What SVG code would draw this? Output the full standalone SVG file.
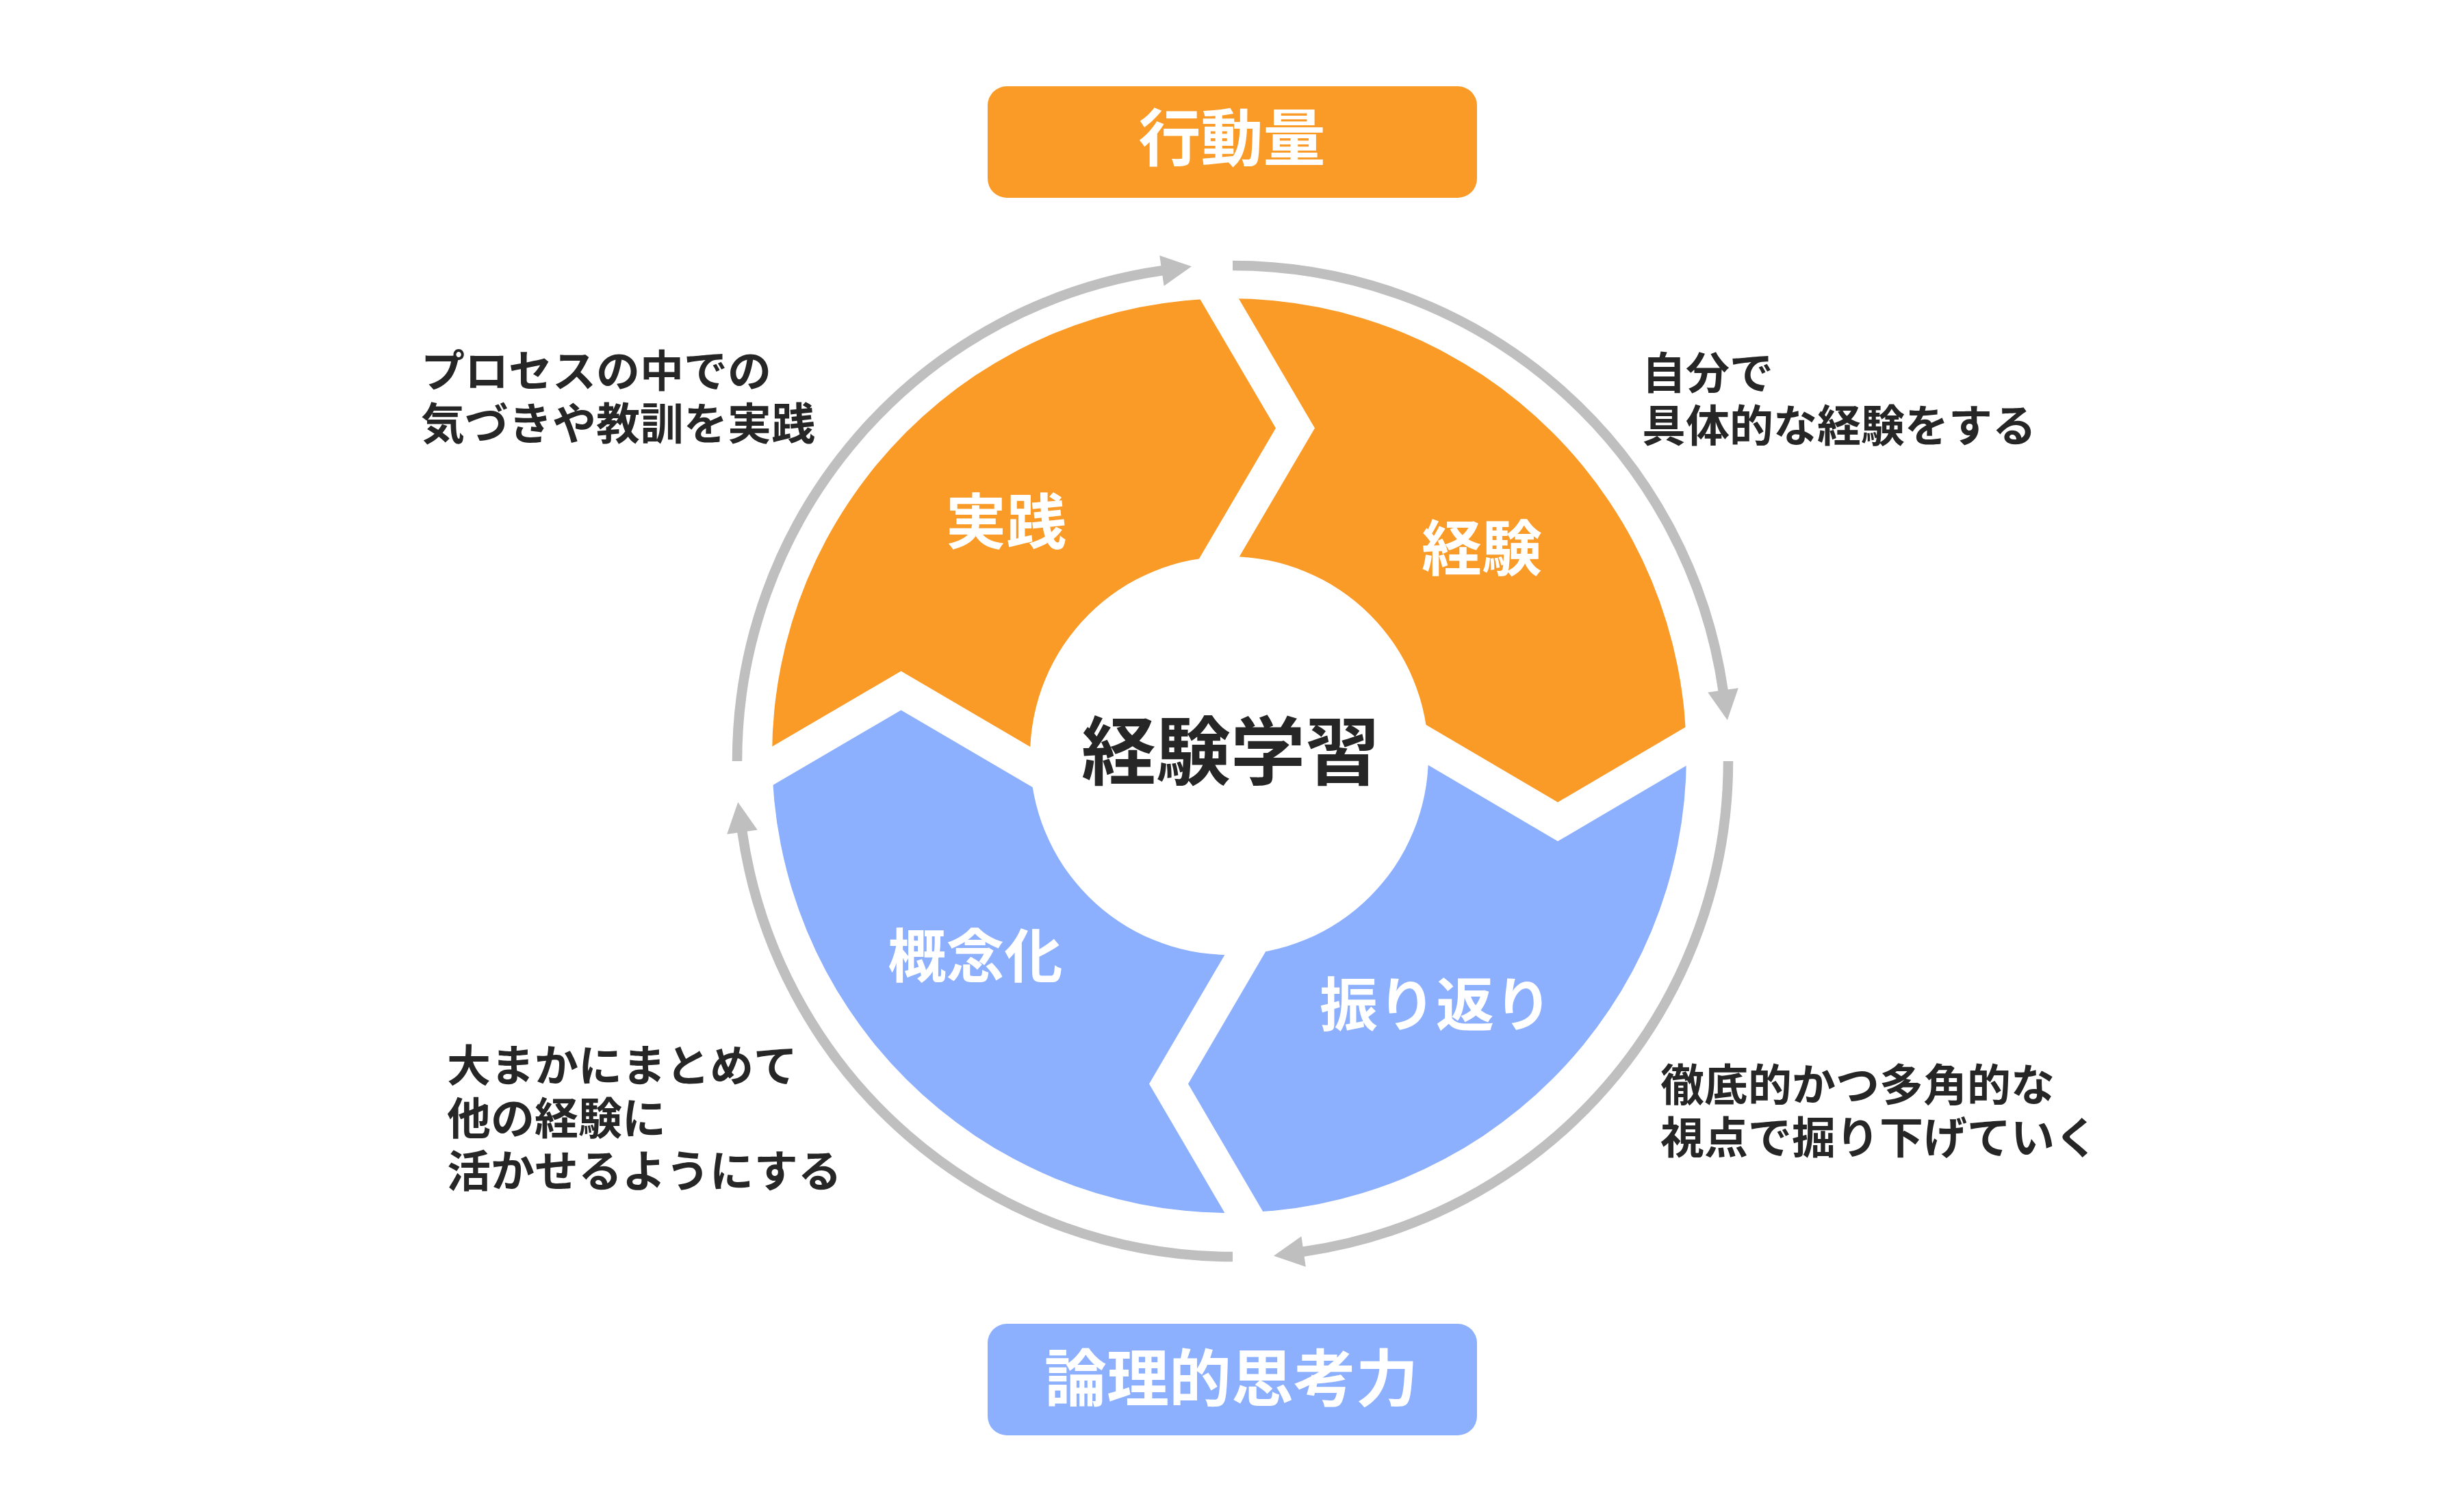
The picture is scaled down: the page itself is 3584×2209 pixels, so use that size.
<svg xmlns="http://www.w3.org/2000/svg" width="3584" height="2209" viewBox="0 0 3584 2209">
<style>
.o{fill:#FA9B28}
.b{fill:#8CB0FE}
.jp{font-family:"Noto Sans CJK JP","Noto Sans CJK SC",sans-serif;font-weight:700}
.lbl{fill:#FFFFFF;text-anchor:middle;font-size:88px}
.lbl2{fill:#FFFFFF;text-anchor:middle;font-size:85px}
.box{fill:#FFFFFF;text-anchor:middle;font-size:91px}
.note{fill:#262626;font-size:64px}
.ring{fill:none;stroke:#BFBFBF;stroke-width:14.5;marker-end:url(#ah)}
</style>
<defs>
<clipPath id="annulus">
<path clip-rule="evenodd" d="M1128,1104 A668,668 0 1 1 2464,1104 A668,668 0 1 1 1128,1104 Z M1505,1104 A291,291 0 1 1 2087,1104 A291,291 0 1 1 1505,1104 Z"/>
</clipPath>
<marker id="ah" markerUnits="userSpaceOnUse" markerWidth="50" markerHeight="50" refX="1" refY="22.5" orient="auto" overflow="visible">
<path d="M0,0 L44,22.5 L0,45 Z" fill="#BFBFBF"/>
</marker>
</defs>
<rect x="0" y="0" width="3584" height="2209" fill="#FFFFFF"/>

<g id="box-top">
<rect x="1443" y="126" width="715" height="163" rx="28" ry="28" class="o"/>
<text x="1800" y="235" class="jp box">行動量</text>
</g>

<g id="box-bottom">
<rect x="1443" y="1934" width="715" height="163" rx="28" ry="28" class="b"/>
<text x="1799" y="2047" class="jp box">論理的思考力</text>
</g>

<g id="seg-jissen">
<path class="o" clip-path="url(#annulus)" d="M1694.3,336.5 L1864,625.5 L1694.3,914.5 L1605.5,1149.7 L1316.5,980.5 L1027.5,1149.7 L1027.5,336.5 Z"/>
<text x="1470" y="794" class="jp lbl">実践</text>
</g>

<g id="seg-keiken">
<path class="o" clip-path="url(#annulus)" d="M1751.3,336.5 L2565,336.5 L2565,1002.3 L2276,1172 L1987,1002.3 L1751.3,914.5 L1921,625.5 Z"/>
<text x="2165" y="833" class="jp lbl">経験</text>
</g>

<g id="seg-furikaeri">
<path class="b" clip-path="url(#annulus)" d="M2565,1059.3 L2565,1872.5 L1905.2,1872.5 L1736,1583.5 L1905.2,1294.5 L1987,1059.3 L2276,1229 Z"/>
<text x="2098" y="1499" class="jp lbl2">振り返り</text>
</g>

<g id="seg-gainenka">
<path class="b" clip-path="url(#annulus)" d="M1027.5,1206.7 L1316.5,1037.5 L1605.5,1206.7 L1848.2,1294.5 L1679,1583.5 L1848.2,1872.5 L1027.5,1872.5 Z"/>
<text x="1425" y="1428" class="jp lbl2">概念化</text>
</g>

<g id="center">
<text x="1798" y="1138" class="jp" font-size="109" fill="#262626" text-anchor="middle">経験学習</text>
</g>

<g id="connectors">
<path class="ring" d="M1801,388 A724,724 0 0 1 2517.7,1009.4"/>
<path class="ring" d="M2525,1112 A724,724 0 0 1 1903.6,1828.7"/>
<path class="ring" d="M1801,1836 A724,724 0 0 1 1084.3,1214.6"/>
<path class="ring" d="M1077,1112 A724,724 0 0 1 1698.4,395.3"/>
</g>

<g id="note-jissen">
<text class="jp note"><tspan x="615" y="565">プロセスの中での</tspan><tspan x="615" y="642">気づきや教訓を実践</tspan></text>
</g>

<g id="note-keiken">
<text class="jp note"><tspan x="2399" y="568">自分で</tspan><tspan x="2399" y="645">具体的な経験をする</tspan></text>
</g>

<g id="note-gainenka">
<text class="jp note"><tspan x="653" y="1580">大まかにまとめて</tspan><tspan x="653" y="1657">他の経験に</tspan><tspan x="653" y="1734">活かせるようにする</tspan></text>
</g>

<g id="note-furikaeri">
<text class="jp note"><tspan x="2426" y="1608">徹底的かつ多角的な</tspan><tspan x="2426" y="1685">視点で掘り下げていく</tspan></text>
</g>
</svg>
